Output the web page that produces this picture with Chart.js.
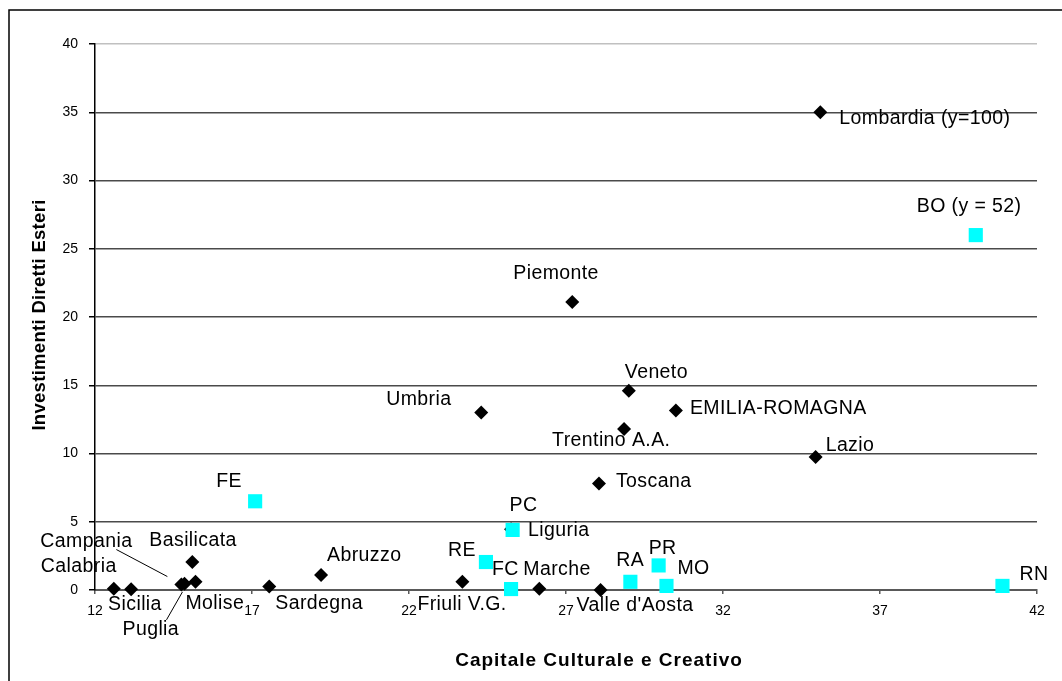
<!DOCTYPE html>
<html>
<head>
<meta charset="utf-8">
<script src="https://cdn.jsdelivr.net/npm/chart.js@4.4.1/dist/chart.umd.min.js"></script>
<style>
  html, body { margin: 0; padding: 0; background: #fff; overflow: hidden; }
  #wrap { width: 1062px; height: 681px; position: relative; }
</style>
</head>
<body>
<div id="wrap"><canvas id="chart"></canvas></div>
<script>
// Regioni (rombi neri)
const regionNames = ['Calabria', 'Sicilia', 'Campania', 'Puglia', 'Molise', 'Basilicata', 'Sardegna',
  'Abruzzo', 'Friuli V.G.', 'Umbria', 'Liguria', 'Marche', 'Piemonte', 'Toscana', "Valle d'Aosta",
  'Trentino A.A.', 'Veneto', 'EMILIA-ROMAGNA', 'Lazio', 'Lombardia (y=100)'];
const regionX = [12.6, 13.15, 14.75, 14.85, 15.2, 15.1, 17.55, 19.2, 23.7, 24.3, 25.25, 26.15, 27.2,
  28.05, 28.1, 28.85, 29.0, 30.5, 34.95, 35.1];
const regionY = [0.1, 0.05, 0.4, 0.45, 0.6, 2.05, 0.25, 1.1, 0.6, 13.0, 4.45, 0.1, 21.1, 7.8, 0.0,
  11.8, 14.6, 13.15, 9.75, 35.0];

// Province emiliano-romagnole (quadrati azzurri)
const provinceNames = ['FE', 'RE', 'PC', 'FC', 'RA', 'PR', 'MO', 'BO (y = 52)', 'RN'];
const provinceX = [17.1, 24.45, 25.3, 25.25, 29.05, 29.95, 30.2, 40.05, 40.9];
const provinceY = [6.5, 2.05, 4.4, 0.07, 0.6, 1.8, 0.3, 26.0, 0.3];

// Tick degli assi
const xTicks = [12, 17, 22, 27, 32, 37, 42];
const yTicks = [0, 5, 10, 15, 20, 25, 30, 35, 40];

// Posizione delle etichette rispetto al punto (px): [dx bordo sinistro, dy centro]
const labelOffsets = {
  'Calabria': [-73, -22], 'Sicilia': [-23, 15], 'Campania': [-141, -43], 'Puglia': [-62, 46],
  'Molise': [-10, 22], 'Basilicata': [-43, -21], 'Sardegna': [6, 17], 'Abruzzo': [6, -19],
  'Friuli V.G.': [-45, 23], 'Umbria': [-95, -13], 'Liguria': [17, 1], 'Marche': [-16, -19],
  'Piemonte': [-59, -28], 'Toscana': [17, -2], "Valle d'Aosta": [-24, 16], 'Trentino A.A.': [-72, 12],
  'Veneto': [-4, -18], 'EMILIA-ROMAGNA': [14, -2], 'Lazio': [10, -11], 'Lombardia (y=100)': [19, 6],
  'FE': [-39, -20], 'RE': [-38, -11], 'PC': [-3, -24], 'FC': [-19, -19], 'RA': [-14, -21],
  'PR': [-10, -17], 'MO': [11, -17], 'BO (y = 52)': [-59, -28], 'RN': [17, -11]
};
// Linee di richiamo
const leaderLines = {
  'Campania': [-65, -35, -14, -8],
  'Puglia': [-18, 36, -2, 8]
};

const FONT = '"Liberation Sans", Arial, sans-serif';

function toPoints(xs, ys) {
  return xs.map((x, i) => ({ x: x, y: ys[i] }));
}

const labelPlugin = {
  id: 'etichette',
  afterDatasetsDraw(chart) {
    const ctx = chart.ctx;
    ctx.save();
    ctx.font = '19.5px ' + FONT;
    ctx.letterSpacing = '0.4px';
    ctx.fillStyle = '#000';
    ctx.strokeStyle = '#000';
    ctx.lineWidth = 1;
    ctx.textBaseline = 'middle';
    ctx.textAlign = 'left';
    chart.data.datasets.forEach((ds, i) => {
      chart.getDatasetMeta(i).data.forEach((pt, j) => {
        const name = ds.names[j];
        const off = labelOffsets[name] || [8, 0];
        ctx.fillText(name, pt.x + off[0], pt.y + off[1]);
        const lead = leaderLines[name];
        if (lead) {
          ctx.beginPath();
          ctx.moveTo(pt.x + lead[0], pt.y + lead[1]);
          ctx.lineTo(pt.x + lead[2], pt.y + lead[3]);
          ctx.stroke();
        }
      });
    });
    ctx.restore();
  },
  afterDraw(chart) {
    const ctx = chart.ctx;
    ctx.save();
    // cornice esterna
    ctx.strokeStyle = '#000';
    ctx.lineWidth = 1.5;
    ctx.beginPath();
    ctx.moveTo(9, 1000);
    ctx.lineTo(9, 10);
    ctx.lineTo(1100, 10);
    ctx.stroke();
    // titoli assi
    ctx.fillStyle = '#000';
    ctx.textAlign = 'center';
    ctx.textBaseline = 'alphabetic';
    ctx.font = 'bold 19px ' + FONT;
    ctx.letterSpacing = '1px';
    ctx.fillText('Capitale Culturale e Creativo', 599, 666);
    ctx.font = 'bold 18.5px ' + FONT;
    ctx.letterSpacing = '0.3px';
    ctx.translate(45, 315);
    ctx.rotate(-Math.PI / 2);
    ctx.fillText('Investimenti Diretti Esteri', 0, 0);
    ctx.restore();
  }
};

new Chart(document.getElementById('chart'), {
  type: 'scatter',
  data: {
    datasets: [
      {
        label: 'Province',
        names: provinceNames,
        data: toPoints(provinceX, provinceY),
        pointStyle: 'rect',
        pointRadius: 10,
        pointHoverRadius: 10,
        backgroundColor: '#00ffff',
        borderWidth: 0,
        clip: false
      },
      {
        label: 'Regioni',
        names: regionNames,
        data: toPoints(regionX, regionY),
        pointStyle: 'rectRot',
        pointRadius: 7,
        pointHoverRadius: 7,
        backgroundColor: '#000',
        borderWidth: 0,
        clip: false
      }
    ]
  },
  options: {
    responsive: true,
    maintainAspectRatio: false,
    animation: false,
    events: [],
    layout: { padding: { left: 10, right: 25, top: 44, bottom: 0 } },
    plugins: {
      legend: { display: false },
      tooltip: { enabled: false }
    },
    scales: {
      x: {
        type: 'linear',
        min: 12,
        max: 42,
        afterBuildTicks: s => { s.ticks = xTicks.map(v => ({ value: v })); },
        afterFit: s => { s.height = 91; },
        ticks: { color: '#000', font: { family: FONT, size: 14 }, padding: 9, maxRotation: 0 },
        grid: { drawOnChartArea: false, drawTicks: true, tickLength: 4, color: '#595959', lineWidth: 1.5 },
        border: { color: '#595959', width: 2 }
      },
      y: {
        min: 0,
        max: 40,
        afterBuildTicks: s => { s.ticks = yTicks.map(v => ({ value: v })); },
        afterFit: s => { s.width = 85; },
        ticks: { color: '#000', font: { family: FONT, size: 14 }, padding: 11 },
        grid: {
          color: c => (c.tick && c.tick.value === 40 ? '#c0c0c0' : '#4a4a4a'),
          lineWidth: 1.5,
          tickLength: 6,
          tickColor: '#000'
        },
        border: { color: '#000', width: 1.5 }
      }
    }
  },
  plugins: [labelPlugin]
});
</script>
</body>
</html>
